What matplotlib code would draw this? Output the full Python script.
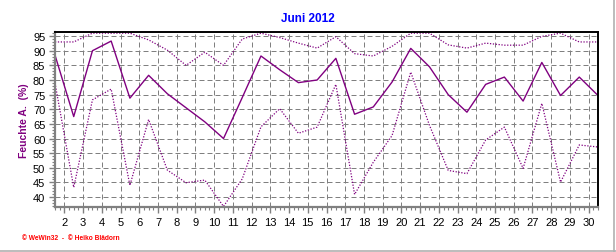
import numpy as np
import matplotlib
matplotlib.use("Agg")
import matplotlib.pyplot as plt
from matplotlib.lines import Line2D
from matplotlib.ticker import MultipleLocator

plt.rcParams["font.family"] = ["Liberation Sans", "DejaVu Sans"]

days = np.arange(1, 31)
mean_rh = [88.5, 67.5, 90.0, 93.3, 73.8, 81.6, 75.3, 70.5, 65.7, 60.0,
           74.0, 88.2, 83.5, 79.1, 80.0, 87.4, 68.3, 70.8, 79.3, 90.8,
           84.5, 75.0, 69.0, 78.5, 81.0, 72.8, 86.0, 74.7, 81.0, 74.7]
max_rh = [93.0, 93.0, 96.0, 96.0, 96.0, 93.7, 90.2, 85.0, 89.5, 85.0,
          94.0, 96.0, 94.5, 92.6, 90.9, 94.8, 89.0, 88.2, 91.5, 96.0,
          96.0, 92.0, 90.9, 92.6, 91.9, 91.9, 94.9, 96.0, 93.0, 93.0]
min_rh = [79.0, 43.3, 73.2, 76.9, 44.0, 66.5, 49.2, 44.9, 45.8, 36.8,
          46.2, 64.0, 70.2, 61.8, 63.9, 78.5, 40.9, 51.9, 61.0, 82.7,
          64.5, 49.1, 48.0, 59.5, 63.9, 49.8, 72.0, 45.1, 57.8, 57.1]

purple = "#800080"
grey = "#808080"

fig = plt.figure(figsize=(6.16, 2.53), dpi=100)
ax = fig.add_axes([55 / 616, 45 / 253, 543 / 616, 175 / 253])

x = days + 0.5
ax.plot(x, max_rh, color=purple, linewidth=0.9, linestyle=(0, (1, 1.3)))
ax.plot(x, mean_rh, color=purple, linewidth=1.0)
ax.plot(x, min_rh, color=purple, linewidth=0.9, linestyle=(0, (1, 1.3)))

ax.set_xlim(1.5, 30.5)
ax.set_ylim(36.6, 96.4)
ax.xaxis.set_major_locator(MultipleLocator(1))
ax.xaxis.set_minor_locator(MultipleLocator(0.25))
ax.yaxis.set_major_locator(MultipleLocator(5))
ax.yaxis.set_minor_locator(MultipleLocator(1))
ax.set_xticks(range(2, 31))

ax.grid(True, which="major", color=grey, linewidth=0.72, linestyle=(0, (5, 3)))
ax.set_axisbelow(True)

ax.tick_params(axis="both", which="major", length=4, width=1, color=grey,
               labelsize=8, labelcolor="black", pad=3)
ax.tick_params(axis="both", which="minor", length=2, width=0.8, color=grey)

for side in ("left", "bottom"):
    ax.spines[side].set_color(grey)
    ax.spines[side].set_linewidth(1.6)
for side in ("top", "right"):
    ax.spines[side].set_color("black")
    ax.spines[side].set_linewidth(1.4)

ax.set_ylabel("Feuchte A.  (%)", color=purple, fontsize=7.5, fontweight="bold",
              labelpad=3)
fig.text(308 / 616, 1 - 18.5 / 253, "Juni 2012", color="#0000ff", fontsize=8.5,
         fontweight="bold", ha="center", va="center")
fig.text(22 / 616, 1 - 238.5 / 253, "© WeWin32  -  © Heiko Blädorn", color="red",
         fontsize=4.8, fontweight="bold", ha="left", va="center")

# grey frame lines right and bottom
fig.add_artist(Line2D([613.5 / 616, 613.5 / 616], [0, 1], color="#b0b0b0",
                      linewidth=1.2, transform=fig.transFigure))
fig.add_artist(Line2D([0, 1], [1.2 / 253, 1.2 / 253], color="#b0b0b0",
                      linewidth=1.2, transform=fig.transFigure))

fig.savefig("out.png", dpi=100, facecolor="white")
